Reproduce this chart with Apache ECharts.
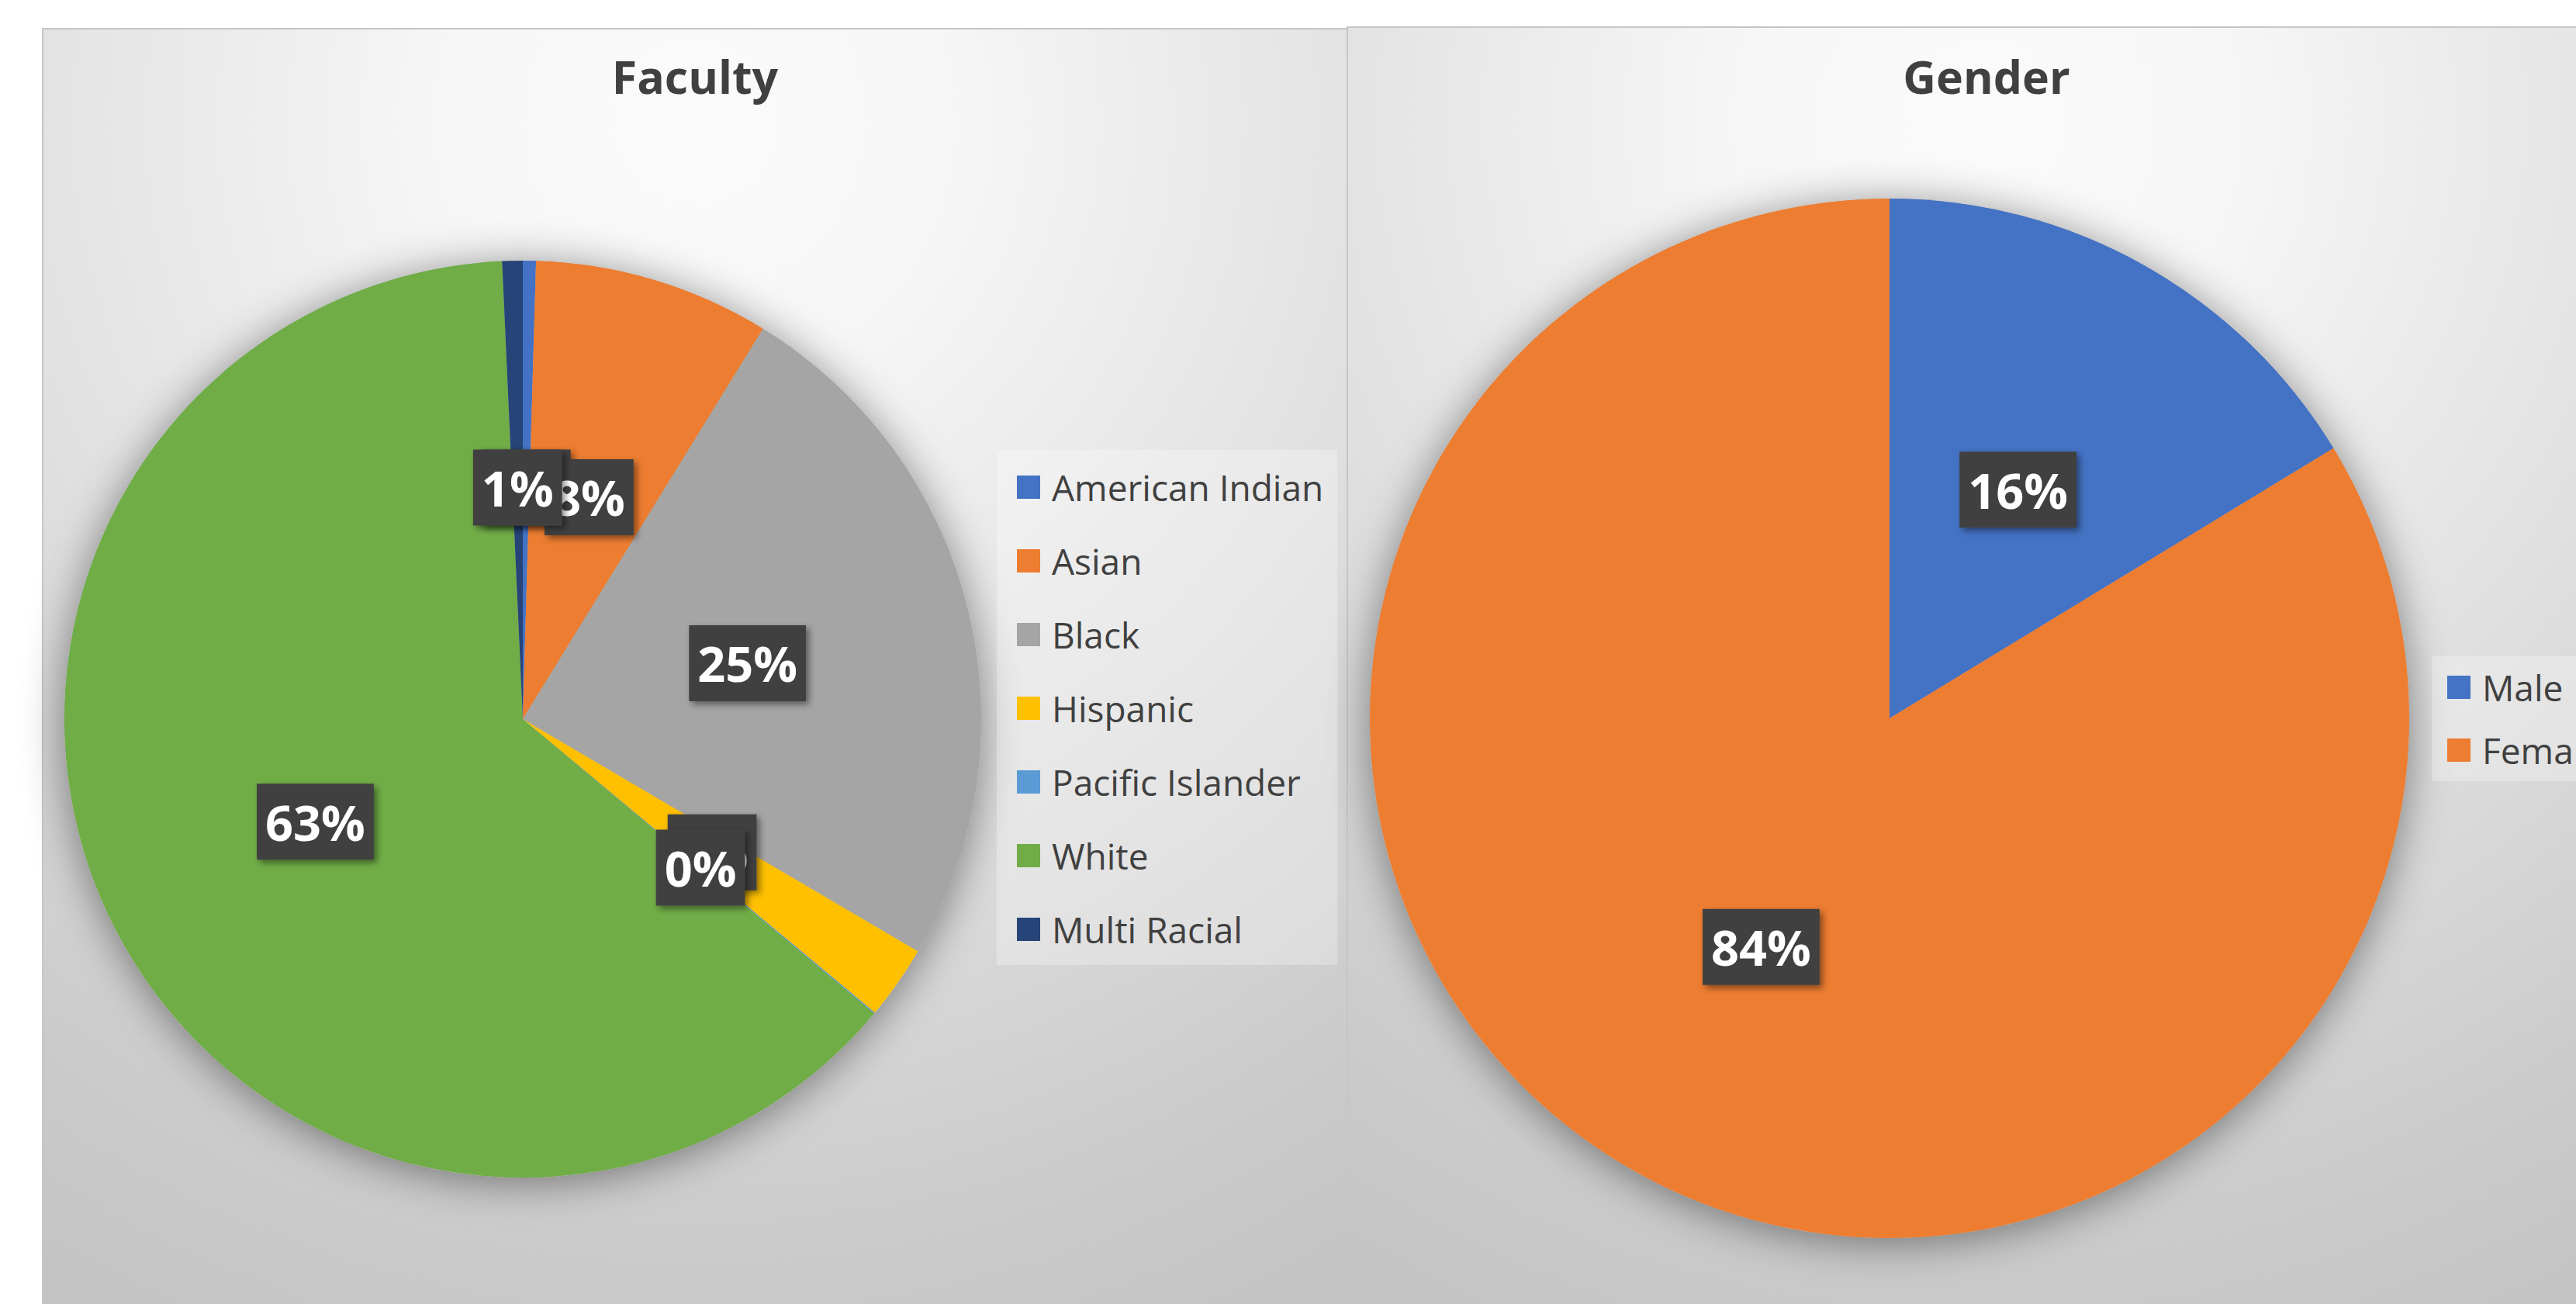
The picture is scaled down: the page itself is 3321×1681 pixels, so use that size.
<!DOCTYPE html>
<html>
<head>
<meta charset="utf-8">
<script src="https://cdn.jsdelivr.net/npm/echarts@6/dist/echarts.min.js"></script>
<style>
html,body{margin:0;padding:0;background:#ffffff;}
#chart{width:3321px;height:1681px;}
</style>
</head>
<body>
<div id="chart"></div>
<script>
// ---- data ----
const facultyTitle = 'Faculty';
const facultyCategories = ['American Indian', 'Asian', 'Black', 'Hispanic', 'Pacific Islander', 'White', 'Multi Racial'];
const facultyValues = [0.46, 8.32, 24.68, 2.6, 0.04, 63.18, 0.72];
const facultyColors = ['#4472C4', '#ED7D31', '#A5A5A5', '#FFC000', '#5B9BD5', '#70AD47', '#264478'];

const genderTitle = 'Gender';
const genderCategories = ['Male', 'Female'];
const genderValues = [16.3, 83.7];
const genderColors = ['#4472C4', '#ED7D31'];

// ---- build ----
const FONT = '"Open Sans", "Noto Sans", sans-serif';
const sum = a => a.reduce((s, v) => s + v, 0);

function pieData(cats, vals, cols) {
  return cats.map((c, i) => ({ name: c, value: vals[i], itemStyle: { color: cols[i] } }));
}

const panelFill = {
  type: 'radial', x: 0.5, y: 0.07, r: 1.0,
  colorStops: [
    { offset: 0, color: '#fbfbfb' },
    { offset: 0.2, color: '#f6f6f6' },
    { offset: 0.5, color: '#e3e3e3' },
    { offset: 0.85, color: '#cbcbcb' },
    { offset: 1, color: '#c4c4c4' }
  ]
};

const labelStyle = {
  show: true,
  position: 'inside',
  formatter: '{d}%',
  color: '#ffffff',
  fontFamily: FONT,
  fontWeight: 'bold',
  fontSize: 63,
  lineHeight: 62,
  backgroundColor: '#414141',
  padding: [18, 11, 18, 11],
  shadowBlur: 8,
  shadowColor: 'rgba(0,0,0,0.45)',
  shadowOffsetX: 4,
  shadowOffsetY: 4
};

function shadowSeries(center, radius, vals) {
  return {
    type: 'pie', center: center, radius: radius, silent: true, z: 1,
    label: { show: false }, labelLine: { show: false },
    emphasis: { disabled: true },
    data: [{ name: '', value: sum(vals), itemStyle: {
      color: '#b0b0b0', shadowBlur: 55, shadowColor: 'rgba(0,0,0,0.45)', shadowOffsetY: 6 } }]
  };
}

const chart = echarts.init(document.getElementById('chart'), null, { renderer: 'svg' });

const option = {
  backgroundColor: '#ffffff',
  animation: false,
  graphic: [
    { type: 'rect', z: -10, silent: true, shape: { x: 55, y: 37, width: 1682, height: 1700 },
      style: { fill: panelFill, stroke: '#c6c6c6', lineWidth: 2 } },
    { type: 'rect', z: -10, silent: true, shape: { x: 1737, y: 35, width: 1648, height: 1700 },
      style: { fill: panelFill, stroke: '#c6c6c6', lineWidth: 2 } }
  ],
  title: [
    { text: facultyTitle, left: 896, top: 68, textAlign: 'center', padding: 0,
      textStyle: { fontFamily: FONT, fontWeight: 'bold', fontSize: 59, color: '#404040' } },
    { text: genderTitle, left: 2561, top: 68, textAlign: 'center', padding: 0,
      textStyle: { fontFamily: FONT, fontWeight: 'bold', fontSize: 59, color: '#404040' } }
  ],
  legend: [
    {
      data: facultyCategories, orient: 'vertical', left: 1285, top: 580,
      padding: [25, 18, 23, 26], itemGap: 49, itemWidth: 30, itemHeight: 30,
      icon: 'rect', selectedMode: false,
      backgroundColor: 'rgba(255,255,255,0.28)',
      textStyle: { fontFamily: FONT, fontSize: 46, lineHeight: 46, color: '#404040', padding: [0, 0, 0, 10] }
    },
    {
      data: genderCategories, orient: 'vertical', left: 3135, top: 846,
      padding: [17, 20, 17, 20], itemGap: 35, itemWidth: 30, itemHeight: 30,
      icon: 'rect', selectedMode: false,
      backgroundColor: 'rgba(255,255,255,0.28)',
      textStyle: { fontFamily: FONT, fontSize: 46, lineHeight: 46, color: '#404040', padding: [0, 0, 0, 10] }
    }
  ],
  series: [
    shadowSeries([674, 927], 591, facultyValues),
    {
      type: 'pie', name: facultyTitle, center: [674, 927], radius: 591, z: 2,
      startAngle: 90, clockwise: true, percentPrecision: 0,
      minShowLabelAngle: 0,
      avoidLabelOverlap: false, emphasis: { disabled: true },
      labelLayout: { hideOverlap: false },
      itemStyle: { borderWidth: 0 },
      label: labelStyle, labelLine: { show: false },
      data: pieData(facultyCategories, facultyValues, facultyColors)
    },
    shadowSeries([2436, 926], 670, genderValues),
    {
      type: 'pie', name: genderTitle, center: [2436, 926], radius: 670, z: 2,
      startAngle: 90, clockwise: true, percentPrecision: 0,
      minShowLabelAngle: 0,
      avoidLabelOverlap: false, emphasis: { disabled: true },
      labelLayout: { hideOverlap: false },
      itemStyle: { borderWidth: 0 },
      label: labelStyle, labelLine: { show: false },
      data: pieData(genderCategories, genderValues, genderColors)
    }
  ]
};
chart.setOption(option);
</script>
</body>
</html>
